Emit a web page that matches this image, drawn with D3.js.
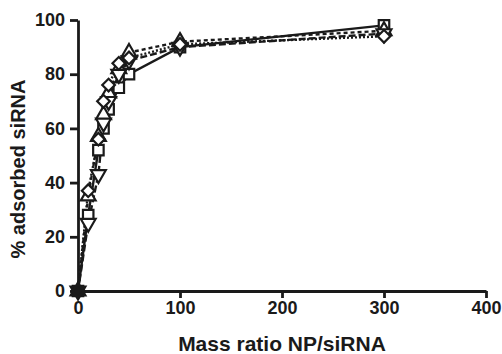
<!DOCTYPE html>
<html>
<head>
<meta charset="utf-8">
<script src="https://cdn.jsdelivr.net/npm/d3@7"></script>
<style>
  body { margin: 0; background: #fff; }
  text { font-family: "Liberation Sans", Arial, sans-serif; font-weight: bold; fill: #1a1a1a; }
</style>
</head>
<body>
<script>
// Data
var ratios = [0, 10, 20, 25, 30, 40, 50, 100, 300];
var squareVals = [0, 28, 52, 60, 67, 75, 80, 90, 98];
var triUpVals = [0, 35, 57, 65, 73, 82, 88, 92, 96];
var triDownVals = [0, 25, 43, 62, 70, 80, 85, 90, 95];
var diamondVals = [0, 37, 56, 70, 76, 84, 86, 91, 94];
var xTicks = [0, 100, 200, 300, 400];
var yTicks = [0, 20, 40, 60, 80, 100];

var series = [
    {name: 'square', values: squareVals, dash: null, symbol: d3.symbolSquare, size: 110, rot: 0},
    {name: 'triUp', values: triUpVals, dash: '4,3', symbol: d3.symbolTriangle, size: 95, rot: 0},
    {name: 'triDown', values: triDownVals, dash: '7,3', symbol: d3.symbolTriangle, size: 95, rot: 180},
    {name: 'diamond', values: diamondVals, dash: '2,2', symbol: d3.symbolSquare, size: 80, rot: 45}
];

var width = 502, height = 354;
var x = d3.scaleLinear().domain([0, 400]).range([78, 486]);
var y = d3.scaleLinear().domain([0, 100]).range([291, 20]);

var svg = d3.select('body')
    .append('svg')
    .attr('width', width)
    .attr('height', height);

// Axes
var xAxis = svg.append('g')
    .attr('transform', 'translate(0,' + y(0) + ')')
    .call(d3.axisBottom(x).tickValues(xTicks).tickSize(7).tickPadding(3).tickSizeOuter(0));
var yAxis = svg.append('g')
    .attr('transform', 'translate(' + x(0) + ',0)')
    .call(d3.axisLeft(y).tickValues(yTicks).tickSize(8).tickPadding(5).tickSizeOuter(0));

[xAxis, yAxis].forEach(function(g) {
    g.select('.domain').attr('stroke', '#1a1a1a').attr('stroke-width', 2.8);
    g.selectAll('.tick line').attr('stroke', '#1a1a1a').attr('stroke-width', 2.8);
    g.selectAll('.tick text').style('font-size', '18px').style('font-family', '"Liberation Sans", Arial, sans-serif').style('font-weight', 'bold').attr('fill', '#1a1a1a');
});

// Axis titles
svg.append('text')
    .attr('x', 282)
    .attr('y', 351)
    .attr('text-anchor', 'middle')
    .style('font-size', '21px')
    .text('Mass ratio NP/siRNA');

svg.append('text')
    .attr('transform', 'translate(25,' + 169 + ') rotate(-90)')
    .attr('text-anchor', 'middle')
    .style('font-size', '20px')
    .text('% adsorbed siRNA');

// Lines
var line = d3.line()
    .x(function(d, i) { return x(ratios[i]); })
    .y(function(d) { return y(d); });

series.forEach(function(s) {
    svg.append('path')
        .datum(s.values)
        .attr('fill', 'none')
        .attr('stroke', '#1a1a1a')
        .attr('stroke-width', 2.4)
        .attr('stroke-dasharray', s.dash)
        .attr('d', line);
});

// Markers
series.forEach(function(s) {
    svg.selectAll('.m-' + s.name)
        .data(s.values)
        .enter()
        .append('path')
        .attr('class', 'm-' + s.name)
        .attr('d', d3.symbol().type(s.symbol).size(s.size))
        .attr('transform', function(d, i) {
            return 'translate(' + x(ratios[i]) + ',' + y(d) + ') rotate(' + s.rot + ')';
        })
        .attr('fill', function(d, i) { return i === 0 ? '#1a1a1a' : 'white'; })
        .attr('stroke', '#1a1a1a')
        .attr('stroke-width', 2.2);
});
</script>
</body>
</html>
